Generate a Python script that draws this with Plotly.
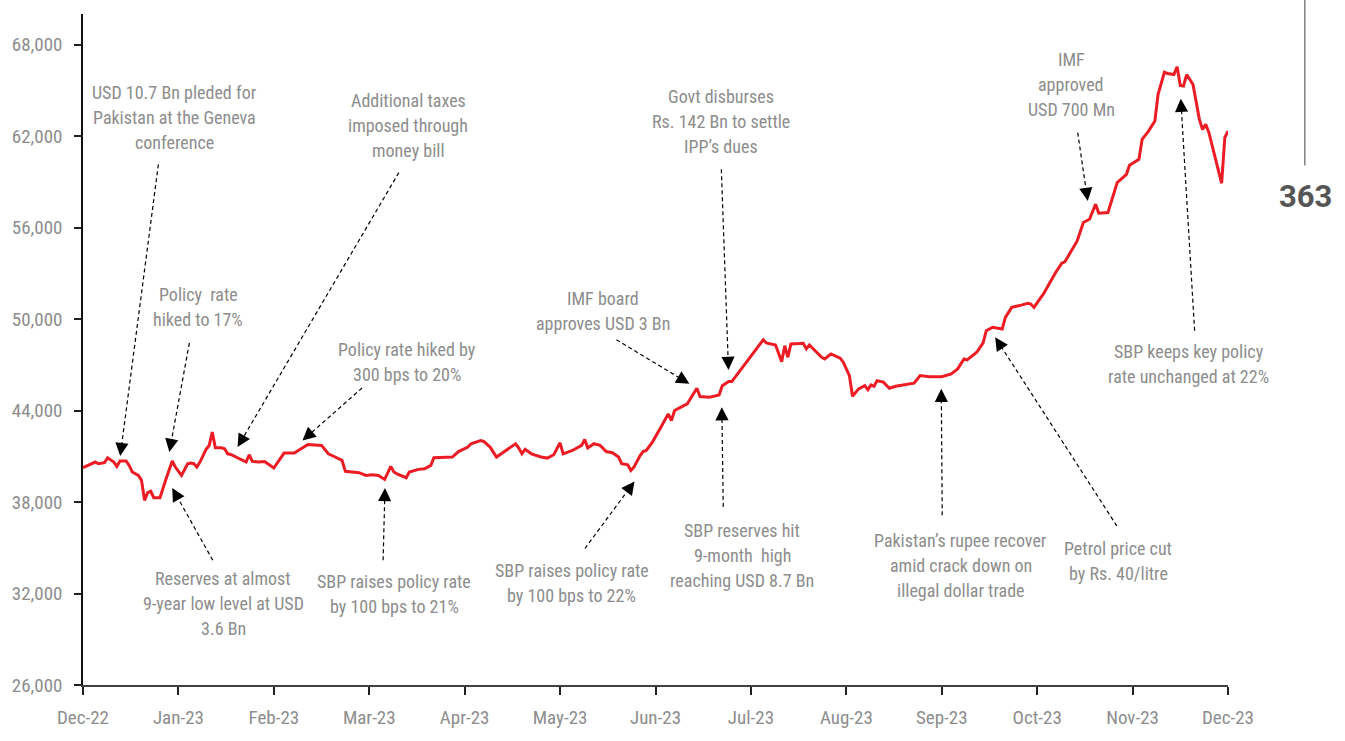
import calendar
import math
import plotly.graph_objects as go

# KSE-100 index, Dec-2022 to Dec-2023
dates = [
    "2022-12-01", "2022-12-05", "2022-12-06", "2022-12-08", "2022-12-09", "2022-12-11",
    "2022-12-12", "2022-12-13", "2022-12-15", "2022-12-16", "2022-12-17", "2022-12-19",
    "2022-12-20", "2022-12-21", "2022-12-22", "2022-12-23", "2022-12-24", "2022-12-25",
    "2022-12-26", "2022-12-28", "2022-12-30", "2022-12-31",
    "2023-01-02", "2023-01-04", "2023-01-05", "2023-01-06", "2023-01-07", "2023-01-08",
    "2023-01-10", "2023-01-11", "2023-01-12", "2023-01-13", "2023-01-15", "2023-01-16",
    "2023-01-17", "2023-01-18", "2023-01-21", "2023-01-23", "2023-01-24", "2023-01-25",
    "2023-01-27", "2023-01-29",
    "2023-02-01", "2023-02-04", "2023-02-07", "2023-02-09", "2023-02-11", "2023-02-15",
    "2023-02-17", "2023-02-19", "2023-02-21", "2023-02-22", "2023-02-26", "2023-02-28",
    "2023-03-02", "2023-03-04", "2023-03-06", "2023-03-08", "2023-03-09", "2023-03-10",
    "2023-03-13", "2023-03-14", "2023-03-17", "2023-03-19", "2023-03-21", "2023-03-22",
    "2023-03-28", "2023-03-30", "2023-03-31",
    "2023-04-02", "2023-04-03", "2023-04-06", "2023-04-07", "2023-04-09", "2023-04-11",
    "2023-04-13", "2023-04-15", "2023-04-17", "2023-04-18", "2023-04-19", "2023-04-20",
    "2023-04-22", "2023-04-25", "2023-04-27", "2023-04-29",
    "2023-05-01", "2023-05-02", "2023-05-05", "2023-05-08", "2023-05-09", "2023-05-10",
    "2023-05-12", "2023-05-14", "2023-05-16", "2023-05-18", "2023-05-20", "2023-05-21",
    "2023-05-23", "2023-05-24", "2023-05-25", "2023-05-27", "2023-05-28", "2023-05-29",
    "2023-05-31",
    "2023-06-03", "2023-06-05", "2023-06-06", "2023-06-07", "2023-06-09", "2023-06-11",
    "2023-06-14", "2023-06-15", "2023-06-18", "2023-06-21", "2023-06-22", "2023-06-24",
    "2023-06-25", "2023-06-29",
    "2023-07-02", "2023-07-03", "2023-07-05", "2023-07-06", "2023-07-09", "2023-07-11",
    "2023-07-12", "2023-07-13", "2023-07-14", "2023-07-18", "2023-07-19", "2023-07-20",
    "2023-07-22", "2023-07-24", "2023-07-25", "2023-07-27", "2023-07-30", "2023-07-31",
    "2023-08-02", "2023-08-03", "2023-08-05", "2023-08-07", "2023-08-08", "2023-08-09",
    "2023-08-10", "2023-08-11", "2023-08-13", "2023-08-15", "2023-08-17", "2023-08-21",
    "2023-08-23", "2023-08-25", "2023-08-28",
    "2023-09-01", "2023-09-04", "2023-09-06", "2023-09-08", "2023-09-09", "2023-09-12",
    "2023-09-14", "2023-09-15", "2023-09-17", "2023-09-19", "2023-09-20", "2023-09-21",
    "2023-09-23", "2023-09-26", "2023-09-28", "2023-09-29", "2023-09-30",
    "2023-10-02", "2023-10-03", "2023-10-07", "2023-10-09", "2023-10-10", "2023-10-14",
    "2023-10-16", "2023-10-18", "2023-10-20", "2023-10-21", "2023-10-24", "2023-10-26",
    "2023-10-27", "2023-10-30", "2023-10-31",
    "2023-11-03", "2023-11-04", "2023-11-06", "2023-11-08", "2023-11-09", "2023-11-11",
    "2023-11-12", "2023-11-14", "2023-11-15", "2023-11-16", "2023-11-17", "2023-11-18",
    "2023-11-20", "2023-11-22", "2023-11-23", "2023-11-24", "2023-11-25", "2023-11-29",
    "2023-11-30", "2023-12-01",
]

kse100 = [
    40250, 40620, 40510, 40580, 40900, 40620,
    40330, 40690, 40690, 40400, 39970, 39740,
    39420, 38110, 38610, 38700, 38280, 38280,
    38280, 39530, 40690, 40290,
    39740, 40510, 40555, 40510, 40290, 40620,
    41450, 41710, 42580, 41560, 41560, 41490,
    41160, 41120, 40840, 40620, 41100, 40660,
    40620, 40660,
    40230, 41210, 41210, 41490, 41770, 41710,
    41160, 40950, 40730, 40010, 39920, 39740,
    39790, 39740, 39480, 40330, 39970, 39850,
    39590, 39970, 40140, 40180, 40400, 40900,
    40950, 41310, 41420,
    41600, 41820, 42030, 41970, 41600, 40950,
    41230, 41490, 41820, 41540, 41160, 41450,
    41160, 40950, 40880, 41100,
    41880, 41160, 41380, 41710, 42100, 41540,
    41820, 41710, 41310, 41230, 40950, 40510,
    40440, 40070, 40290, 41050, 41310, 41380,
    41930,
    43020, 43780, 43340, 44000, 44220, 44440,
    45460, 44910, 44870, 45020, 45630, 45900,
    45900, 46990,
    47820, 48040, 48640, 48430, 48300, 47200,
    48250, 47490, 48360, 48410, 48040, 48300,
    47920, 47490, 47380, 47710, 47430, 47170,
    46290, 44940, 45420, 45630, 45370, 45680,
    45590, 45960, 45860, 45460, 45590, 45740,
    45790, 46290, 46220,
    46220, 46400, 46730, 47380, 47320, 47820,
    48430, 49230, 49460, 49390, 49340, 50110,
    50760, 50910, 51030, 50980, 50760,
    51350, 51630, 53050, 53660, 53750, 55120,
    56330, 56540, 57530, 56940, 56980, 58290,
    58940, 59490, 60080,
    60470, 61780, 62320, 62980, 64720, 66180,
    66100, 66030, 66540, 65310, 65270, 66030,
    65380, 63090, 62430, 62760, 62220, 58900,
    61890, 62320,
]

month_labels = ["Dec-22", "Jan-23", "Feb-23", "Mar-23", "Apr-23", "May-23", "Jun-23",
                "Jul-23", "Aug-23", "Sep-23", "Oct-23", "Nov-23", "Dec-23"]
y_ticks = [26000, 32000, 38000, 44000, 50000, 56000, 62000, 68000]

# event call-outs: label lines, label centre, dashed leader start, arrow tip (axis units)
events = [
    (["USD 10.7 Bn pleded for", "Pakistan at the Geneva", "conference"], (0.96, 63190), (0.79, 60140), (0.39, 41010)),
    (["Policy\u00a0 rate", "hiked to 17%"], (1.21, 50780), (1.115, 48430), (0.905, 41280)),
    (["Additional taxes", "imposed through", "money bill"], (3.41, 62700), (3.31, 59600), (1.62, 41600)),
    (["Policy rate hiked by", "300 bps to 20%"], (3.40, 47150), (2.925, 45480), (2.30, 42030)),
    (["Reserves at almost", "9-year low level at USD", "3.6 Bn"], (1.47, 31350), (1.36, 34180), (0.935, 38920)),
    (["SBP raises policy rate", "by 100 bps to 21%"], (3.26, 31970), (3.145, 34180), (3.165, 38920)),
    (["IMF board", "approves USD 3 Bn"], (5.45, 50520), (5.59, 48640), (6.355, 45750)),
    (["SBP raises policy rate", "by 100 bps to 22%"], (5.12, 32660), (5.26, 34950), (5.78, 39350)),
    (["Govt disburses", "Rs. 142 Bn to settle", "IPP\u2019s dues"], (6.69, 62960), (6.69, 59820), (6.765, 46660)),
    (["SBP reserves hit", "9-month\u00a0 high", "reaching USD 8.7 Bn"], (6.91, 34490), (6.71, 37680), (6.695, 44220)),
    (["Pakistan\u2019s rupee recover", "amid crack down on", "illegal dollar trade"], (9.20, 33830), (9.005, 37130), (8.995, 45420)),
    (["Petrol price cut", "by Rs. 40/litre"], (10.85, 34100), (10.835, 36430), (9.56, 48800)),
    (["IMF", "approved", "USD 700 Mn"], (10.355, 65370), (10.425, 62220), (10.53, 57740)),
    (["SBP keeps key policy", "rate unchanged at 22%"], (11.59, 47020), (11.65, 49230), (11.505, 64440)),
]

# canvas / axis geometry
W, H = 1345, 741
M_L, M_R, M_T, M_B = 80, 117, 14, 54
X_RANGE = (0, 12)
Y_RANGE = (26000, 70000)
PX_X = (W - M_L - M_R) / (X_RANGE[1] - X_RANGE[0])
PX_Y = (H - M_T - M_B) / (Y_RANGE[1] - Y_RANGE[0])

FONT = "Liberation Sans Narrow, Roboto Condensed, DejaVu Sans Condensed, Arial Narrow, sans-serif"
GREY = "#8d8d8d"
RED = "#ec1c24"
HEAD_LEN = 13
LINE_GAP = 25


def month_pos(iso):
    """Months elapsed since 1 Dec 2022, with each month the same width."""
    y, m, d = (int(p) for p in iso.split("-"))
    idx = (y - 2022) * 12 + (m - 12)
    return idx + (d - 1) / calendar.monthrange(y, m)[1]


x_pos = [month_pos(d) for d in dates]

fig = go.Figure()

fig.add_trace(go.Scatter(
    x=x_pos, y=kse100, mode="lines",
    line=dict(color=RED, width=3),
    cliponaxis=False, hoverinfo="skip", showlegend=False,
))

annotations = []
for lines, (tx, ty), (x0, y0), (x1, y1) in events:
    # screen-space direction of the leader (y grows downward on screen)
    dx = (x1 - x0) * PX_X
    dy = -(y1 - y0) * PX_Y
    length = math.hypot(dx, dy)
    ux, uy = dx / length, dy / length
    # dashed leader stops at the base of the arrow head
    bx = x1 - ux * HEAD_LEN / PX_X
    by = y1 + uy * HEAD_LEN / PX_Y
    fig.add_trace(go.Scatter(
        x=[x0, bx], y=[y0, by], mode="lines",
        line=dict(color="black", width=1.2, dash="4px,3px"),
        hoverinfo="skip", showlegend=False,
    ))
    annotations.append(dict(
        x=x1, y=y1, xref="x", yref="y", text="",
        showarrow=True, arrowhead=2, arrowsize=2.2, arrowwidth=1.2,
        arrowcolor="black", ax=-ux * (HEAD_LEN + 1), ay=-uy * (HEAD_LEN + 1),
    ))
    mid = (len(lines) - 1) / 2
    for i, line in enumerate(lines):
        annotations.append(dict(
            x=tx, y=ty, xref="x", yref="y", text=line, showarrow=False,
            xanchor="center", yanchor="middle", yshift=(mid - i) * LINE_GAP,
            font=dict(family=FONT, size=18, color=GREY),
        ))

# page number in the right margin
PW = W - M_L - M_R
PH = H - M_T - M_B
annotations.append(dict(
    x=(1306 - M_L) / PW, y=1 - (197 - M_T) / PH, xref="paper", yref="paper",
    text="<b>363</b>", showarrow=False, xanchor="center", yanchor="middle",
    font=dict(family="Roboto, Open Sans, sans-serif", size=31, color="#555555"),
))

fig.update_layout(
    width=W, height=H,
    margin=dict(l=M_L, r=M_R, t=M_T, b=M_B, pad=0),
    paper_bgcolor="white", plot_bgcolor="white",
    annotations=annotations,
    shapes=[dict(
        type="line", xref="paper", yref="paper",
        x0=(1305 - M_L) / PW, x1=(1305 - M_L) / PW,
        y0=1 + M_T / PH, y1=1 - (166 - M_T) / PH,
        line=dict(color="#7f7f7f", width=1.5),
    )],
    xaxis=dict(
        range=list(X_RANGE), tickmode="array",
        tickvals=list(range(len(month_labels))), ticktext=month_labels,
        showgrid=False, zeroline=False,
        showline=True, linecolor="#404040", linewidth=2,
        ticks="outside", ticklen=8, tickwidth=1.5, tickcolor="#222222",
        tickfont=dict(family=FONT, size=19, color=GREY),
        ticklabelstandoff=6,
    ),
    yaxis=dict(
        range=list(Y_RANGE), tickmode="array", tickvals=y_ticks,
        tickformat=",", showgrid=False, zeroline=False,
        showline=True, linecolor="#111111", linewidth=1.5,
        ticks="outside", ticklen=7, tickwidth=1.5, tickcolor="#222222",
        tickfont=dict(family=FONT, size=19, color=GREY),
        ticklabelstandoff=8,
    ),
)

fig.write_html("out.html")
